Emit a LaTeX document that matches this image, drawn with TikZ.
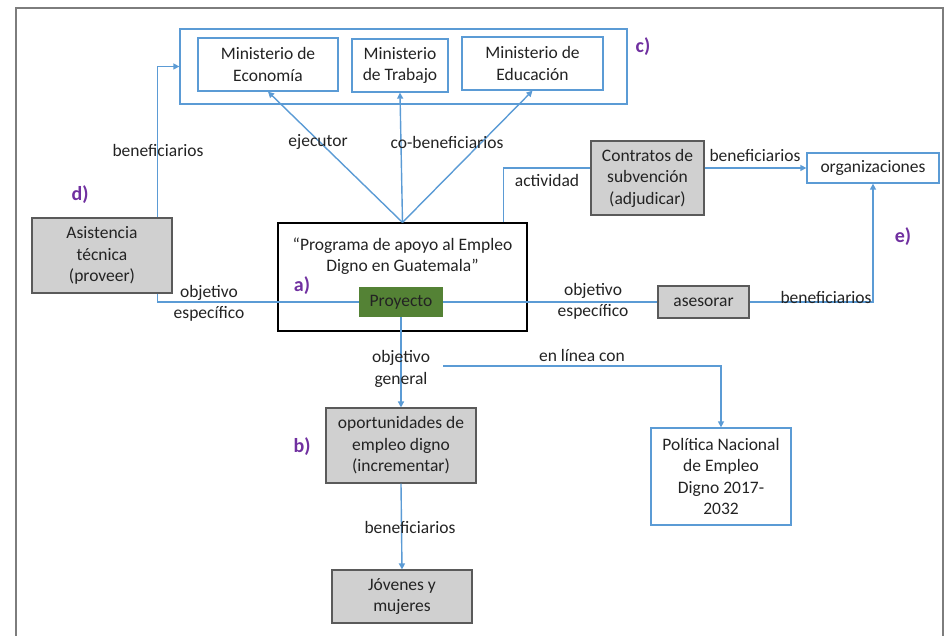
\documentclass[tikz,border=0pt]{standalone}
\usepackage{fontspec}
\setmainfont{Carlito}
\usetikzlibrary{arrows.meta}
\definecolor{lineblue}{RGB}{91,155,213}
\definecolor{framegray}{RGB}{125,125,125}
\definecolor{boxgray}{RGB}{208,208,208}
\definecolor{boxborder}{RGB}{90,90,90}
\definecolor{projgreen}{RGB}{84,130,53}
\definecolor{labpurple}{RGB}{112,48,160}
\definecolor{txt}{RGB}{35,35,35}
\tikzset{
  every node/.style={font=\fontsize{17.5}{21.5}\selectfont, text=txt, inner sep=0pt, align=center},
  bluebox/.style={draw=lineblue, line width=1.3pt, fill=white},
  graybox/.style={draw=boxborder, line width=1.1pt, fill=boxgray},
  conn/.style={draw=lineblue, line width=1.4pt},
  arr/.style={conn, -{Triangle[length=6pt,width=6pt]}},
  lab/.style={},
  letter/.style={text=labpurple, font=\fontsize{20}{22}\selectfont\bfseries},
}
\begin{document}
\begin{tikzpicture}[x=1pt,y=-1pt]
\useasboundingbox (0,0) rectangle (946,636);
\clip (0,0) rectangle (946,636);
\draw[framegray, line width=2pt] (16,660) -- (16,8) -- (943,8) -- (943,660);

% container of ministries
\node[bluebox, minimum width=447pt, minimum height=75pt] (cont) at (403.5,66.5) {};
\node[bluebox, minimum width=140pt, minimum height=53pt] (eco) at (268,64.5) {Ministerio de\\Economía};
\node[bluebox, minimum width=96pt, minimum height=53pt] (tra) at (400,65.5) {Ministerio\\de Trabajo};
\node[bluebox, minimum width=141pt, minimum height=53pt] (edu) at (532.5,63.5) {Ministerio de\\Educación};

% main programme box
\node[draw=black, line width=1.1pt, minimum width=249pt, minimum height=108pt] (prog) at (402.5,277) {};
\node (progtxt) at (402.5,256) {“Programa de apoyo al Empleo\\Digno en Guatemala”};
\node[fill=projgreen, minimum width=84pt, minimum height=30pt] (proy) at (401,302) {Proyecto};

\node[graybox, minimum width=140pt, minimum height=75pt] (asis) at (102,255.5) {Asistencia\\técnica\\(proveer)};
\node[graybox, minimum width=113pt, minimum height=74pt] (contr) at (647.5,178) {Contratos de\\subvención\\(adjudicar)};
\node[bluebox, minimum width=132pt, minimum height=30pt] (org) at (873,168) {organizaciones};
\node[graybox, minimum width=91pt, minimum height=32pt] (ases) at (703.5,302) {asesorar};
\node[graybox, minimum width=150pt, minimum height=75pt] (opor) at (401,445.5) {oportunidades de\\empleo digno\\(incrementar)};
\node[graybox, minimum width=140pt, minimum height=53pt] (jov) at (402,596.5) {Jóvenes y\\mujeres};
\node[bluebox, minimum width=140pt, minimum height=97pt] (pol) at (721,476.5) {Política Nacional\\de Empleo\\Digno 2017-\\2032};

% connectors
\draw[arr] ([xshift=-15pt]asis.north east) |- (cont.west);
\draw[conn] ([xshift=-15pt]asis.south east) |- (proy.west);
\draw[arr] (prog.north) -- (eco.south);
\draw[arr] (prog.north) -- (tra.south);
\draw[arr] (prog.north) -- (edu.south);
\draw[conn] ([xshift=-24pt]prog.north east) |- ([yshift=10pt]contr.west);
\draw[arr] ([yshift=10pt]contr.east) -- (org.west);
\draw[conn] (proy.east) -- (ases.west);
\draw[arr] (ases.east) -| (org.south);
\draw[arr] (proy.south) -- (opor.north);
\coordinate (enl) at (443,366);
\draw[arr] (enl) -| (pol.north);
\draw[arr] (opor.south) -- (jov.north);

% connector labels
\node[lab] (l1) at (158,150) {beneficiarios};
\node[lab] (l2) at (318,142) {ejecutor};
\node[lab] (l3) at (447,142) {co-beneficiarios};
\node[lab] (l4) at (547,180) {actividad};
\node[lab] (l5) at (755,155) {beneficiarios};
\node[lab] (l6) at (209,303.5) {objetivo\\específico};
\node[lab] (l7) at (593,301.5) {objetivo\\específico};
\node[lab] (l8) at (826,297) {beneficiarios};
\node[lab] (l9) at (401,369) {objetivo\\general};
\node[lab] (l10) at (582,355) {en línea con};
\node[lab] (l11) at (410,527) {beneficiarios};

% letters
\node[letter] (la) at (302,286) {a)};
\node[letter] (lb) at (302,447) {b)};
\node[letter] (lc) at (643,47) {c)};
\node[letter] (ld) at (80,195) {d)};
\node[letter] (le) at (903,237) {e)};
\end{tikzpicture}
\end{document}
